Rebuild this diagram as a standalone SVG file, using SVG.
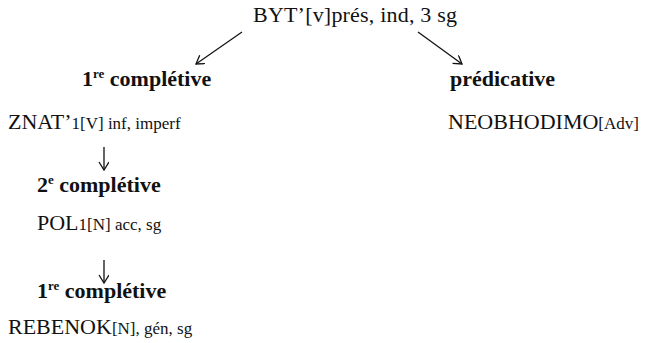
<svg xmlns="http://www.w3.org/2000/svg" width="651" height="343" viewBox="0 0 651 343">
<style>
.t{font-family:"Liberation Serif","Times New Roman",serif;font-size:22px;fill:#111}
.s{font-size:17px}
.b{font-weight:bold}
.sup{font-size:13px}
.c{stroke:#111;stroke-width:1.3;fill:none}
</style>
<defs>
<marker id="ah" markerWidth="12" markerHeight="12" refX="9" refY="5" orient="auto" markerUnits="userSpaceOnUse">
<path d="M1,0 L9,5 L1,10" fill="none" stroke="#111" stroke-width="1.3"/>
</marker>
</defs>
<rect width="651" height="343" fill="#fff"/>
<g id="connectors">
<line class="c" x1="242" y1="32" x2="196" y2="64" marker-end="url(#ah)"/>
<line class="c" x1="418" y1="32" x2="462" y2="64" marker-end="url(#ah)"/>
<line class="c" x1="104" y1="147" x2="104" y2="170" marker-end="url(#ah)"/>
<line class="c" x1="104" y1="260" x2="104" y2="283" marker-end="url(#ah)"/>
</g>
<g id="root"><text class="t" x="253" y="22" textLength="204">BYT’[v]prés, ind, 3 sg</text></g>
<g id="comp1"><text class="t b" x="82" y="86">1<tspan class="sup" dy="-8">re</tspan><tspan dy="8"> complétive</tspan></text></g>
<g id="pred"><text class="t b" x="450" y="86">prédicative</text></g>
<g id="znat"><text class="t" x="8" y="129">ZNAT’<tspan class="s">1[V] inf, imperf</tspan></text></g>
<g id="neob"><text class="t" x="448" y="129">NEOBHODIMO<tspan class="s">[Adv]</tspan></text></g>
<g id="comp2"><text class="t b" x="37" y="192">2<tspan class="sup" dy="-8">e</tspan><tspan dy="8"> complétive</tspan></text></g>
<g id="pol"><text class="t" x="37" y="230">POL<tspan class="s">1[N] acc, sg</tspan></text></g>
<g id="comp3"><text class="t b" x="37" y="298">1<tspan class="sup" dy="-8">re</tspan><tspan dy="8"> complétive</tspan></text></g>
<g id="rebenok"><text class="t" x="8" y="334">REBENOK<tspan class="s">[N], gén, sg</tspan></text></g>
</svg>
